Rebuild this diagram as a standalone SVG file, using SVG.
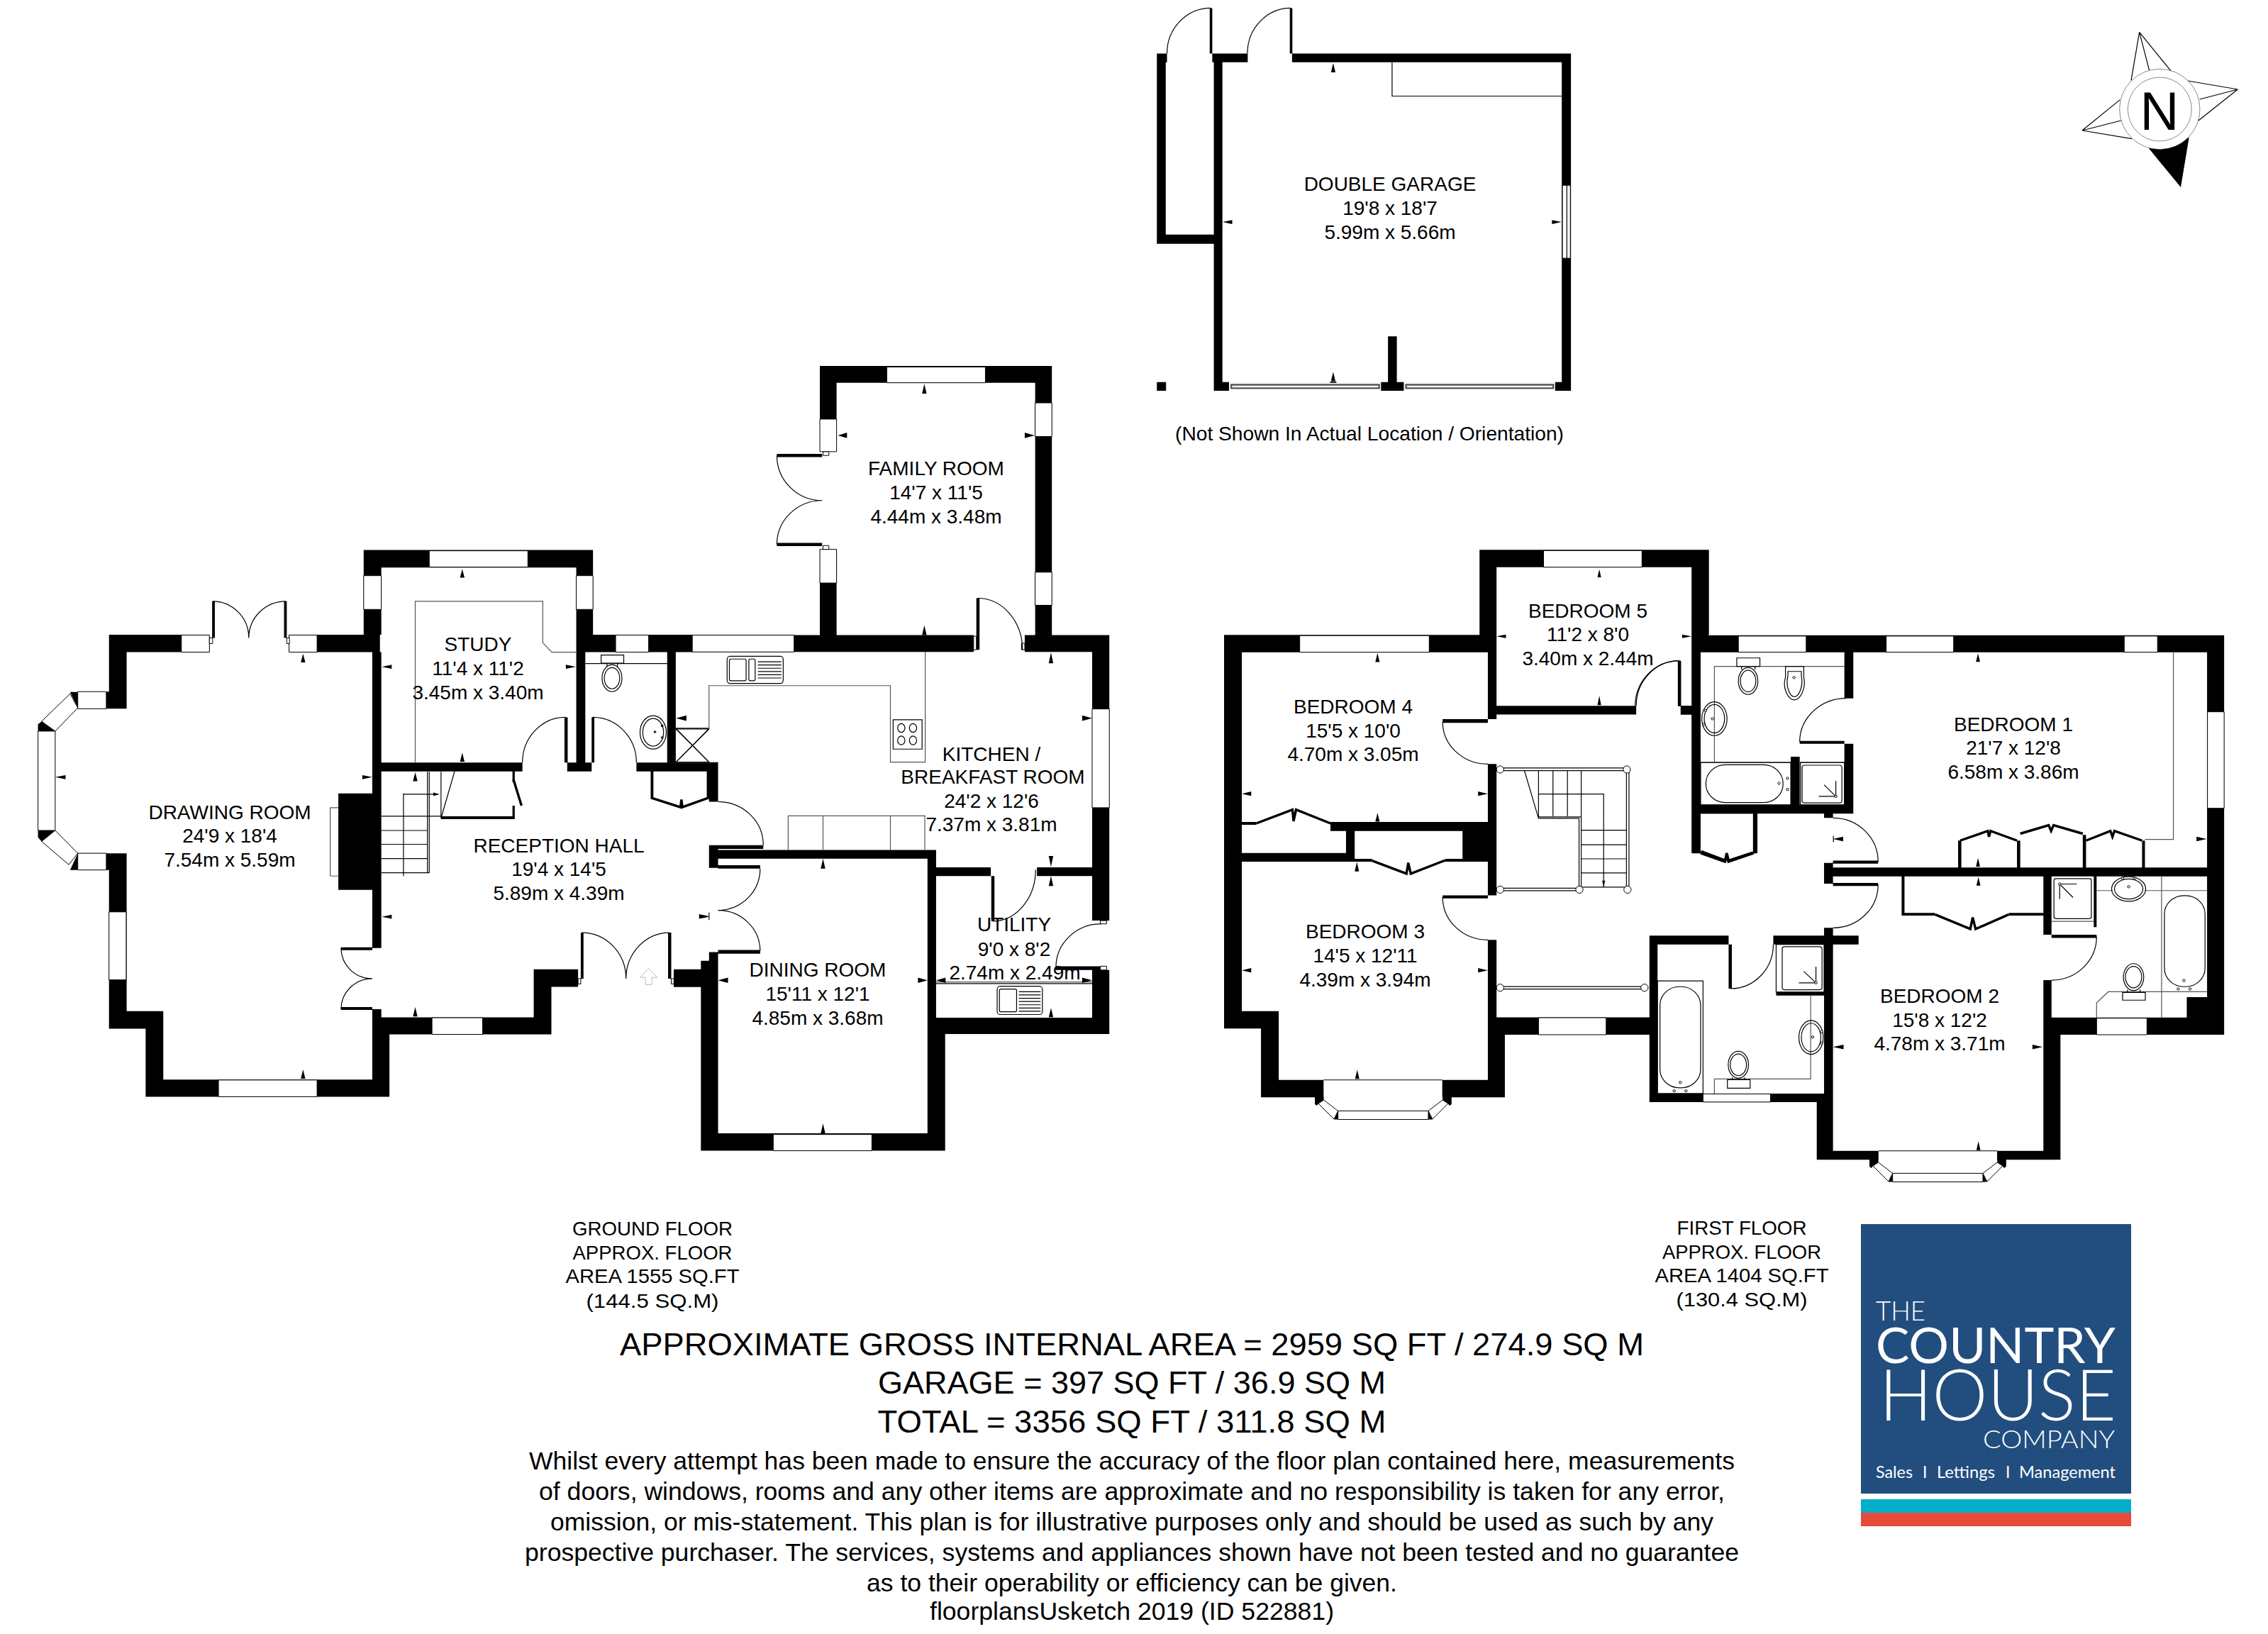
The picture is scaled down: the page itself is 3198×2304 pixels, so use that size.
<svg xmlns="http://www.w3.org/2000/svg" xmlns:xlink="http://www.w3.org/1999/xlink" width="3198" height="2304" viewBox="0 0 3198 2304">
<style>
.k{fill:#000}
.n{fill:#fff;stroke:#000;stroke-width:1;vector-effect:non-scaling-stroke}
.n *{vector-effect:non-scaling-stroke}
.l{fill:none;stroke:#000;stroke-width:1.2;vector-effect:non-scaling-stroke}
.g{fill:none;stroke:#555;stroke-width:1.2;vector-effect:non-scaling-stroke}
.b{fill:none;stroke:#000;stroke-width:3.4;vector-effect:non-scaling-stroke}
text{font-family:"Liberation Sans",Arial,sans-serif;fill:#000;text-anchor:middle}
.r{font-size:28px}
.f{font-family:"DejaVu Sans","Liberation Sans",sans-serif;font-size:28px}
.h{font-size:45px}
.d{font-size:35px}
.o{font-family:Lato,"Liberation Sans",sans-serif;font-weight:300;fill:#fff;text-anchor:start}
.s{font-weight:400}
</style>
<defs>
<g id="bay">
<path class="k" d="M0 0H12.6V4L5 9 3 12 0 10ZM192.8 0H180.2V4L187.8 9 189.8 12 192.8 10ZM27 31.5L32.7 19.4V31.5ZM165.8 31.5L160 19.4V31.5Z"/>
<path class="n" d="M5 9L12.6 4 32.7 19.4 27 31ZM187.8 9L180.2 4 160 19.4 165.8 31ZM32.7 19.4H160V31.5H32.7Z"/>
</g>
</defs>
<rect width="3198" height="2304" fill="#fff"/>

<g id="ground-floor-west" transform="translate(0,760) scale(.6378,.574)">
<path class="k" d="M804 27H1311V70H804ZM804 70H843V235H804ZM1274 70H1311V235H1274ZM241 235H463V278H241ZM639 235H840V278H639ZM241 278H280V417H235V375H241ZM155 376H172V415ZM84 455L92 448 122 472H84ZM84 716H122L92 743 84 733ZM172 772V813H155ZM235 772H280V813H235ZM241 813H280V1160H241ZM241 1160H361V1203H241ZM322 1203H361V1370H322ZM322 1328H861V1370H322ZM823 1216H861V1328H823ZM823 1175H1219V1217H823ZM1180 1057H1278V1100H1180ZM1180 1100H1219V1175H1180ZM1490 1057H1568V1100H1490ZM823 1155H843V1175H823ZM823 278H843V625H823ZM748 625H843V862H748ZM823 862H843V1005H823ZM823 549H1155V571H823ZM1254 549H1308V571H1254ZM1407 549H1568V571H1407ZM1274 278H1294V549H1274ZM1475 278H1494V549H1475ZM1274 235H1531V278H1274ZM469 153H475V243H469ZM628 153H634V243H628ZM1284 967H1290V1080H1284ZM1477 967H1484V1080H1477ZM754 1003H823V1010H754ZM754 1150H823V1157H754ZM1248 438H1255V549H1248ZM1308 438H1314V549H1308ZM1133 571H1138V597H1133ZM1133 655H1138V688H1133ZM975 681H1138V688H975Z"/>
<rect class="n" x="949" y="29" width="218" height="40"/><rect class="n" x="804" y="90" width="39" height="83"/><rect class="n" x="1274" y="90" width="37" height="83"/><rect class="n" x="401" y="236" width="62" height="42"/><rect class="n" x="639" y="236" width="62" height="42"/><rect class="n" x="172" y="375" width="63" height="42"/><rect class="n" x="172" y="772" width="63" height="41"/><rect class="n" x="84" y="472" width="38" height="244"/><path class="n" d="M92 448L122 472 172 415 155 380ZM92 743L122 716 172 772 152 800Z"/><rect class="n" x="241" y="916" width="38" height="167"/><rect class="n" x="483" y="1329" width="218" height="41"/><rect class="n" x="955" y="1176" width="112" height="41"/><rect class="n" x="1361" y="236" width="73" height="42"/>
<path class="n" d="M463 243H470V257H463ZM634 243H640V257H634ZM1278 1080H1284V1093H1278ZM1484 1080H1490V1093H1484Z"/>
<path class="l" d="M470 153A80 90 0 0 1 550 243M632 153A82 90 0 0 0 550 243M1287 967A97 113 0 0 1 1384 1080M1480 967A96 113 0 0 0 1384 1080M754 1005A69 75 0 0 0 823 1080M754 1155A69 75 0 0 1 823 1080M1250 438A95 111 0 0 0 1155 549M1310 438A97 111 0 0 1 1407 549"/>
<path class="g" d="M918 549V153H1200V255L1220 278H1274M730 660H748M730 828H748M730 660V828"/>
<path class="l" d="M1294 306H1475M843 681H975M843 716H945M843 750H945M843 785H945M843 820H949M892 625V828M945 572V820M949 572V820M975 572V686M1005 571L975 686M892 627H965M1494 465H1568M1494 465L1568 549M1568 465L1494 549"/>
<path class="k" d="M972 627l-14-4v8z"/>
<path class="b" d="M1135 590L1153 655"/>
<rect class="l" x="1329" y="285" width="50" height="20"/><path class="l" d="M1342 305V314M1365 305V314"/>
<ellipse class="l" cx="1353" cy="342" rx="22" ry="33"/><ellipse class="l" cx="1353" cy="342" rx="17" ry="26"/>
<ellipse class="l" cx="1444" cy="475" rx="29" ry="41"/><ellipse class="l" cx="1444" cy="475" rx="23" ry="34"/>
<circle class="l" cx="1448" cy="474" r="2"/><circle class="l" cx="1464" cy="459" r="2"/><circle class="l" cx="1464" cy="488" r="2"/>
<path class="k" d="M1022 74l-5 21h10zM670 282l-5 21h10zM844 314l22-5v10zM1273 314l-22-5v10zM122 585l23-5v10zM823 585l-22-5v10zM1022 525l-5 22h10zM918 573l-5 22h10zM918 1150l-5 23h10zM844 928l22-5v10zM1568 928l-22-5v10zM670 1303l-5 23h10z"/>
<path d="M1434 1055l-19 22h12v18h14v-18h12z" fill="none" stroke="#bbb" stroke-width="1" vector-effect="non-scaling-stroke"/>
</g>

<g id="ground-floor-east" transform="translate(700,480) scale(.6378,.7653)">
<path class="k" d="M715 47H1228V78H715ZM715 78H752V145H715ZM715 385H752V543H715ZM1191 78H1228V543H1191ZM433 543H1055V574H433ZM1168 543H1355V574H1168ZM1317 574H1355V1069H1317ZM1317 1160H1355V1248H1317ZM972 1248H1355V1278H972ZM972 971H1093V987H972ZM1195 971H1317V987H1195ZM470 939H972V955H470ZM953 955H972V1248H953ZM953 1248H992V1493H953ZM452 1461H992V1493H452ZM452 1143H490V1461H452ZM470 1127H490V1143H470ZM392 1160H452V1191H392ZM470 930H490V972H470ZM470 777H490V850H470ZM490 930H590V937H490ZM490 967H583V973H490ZM490 1123H583V1130H490ZM620 209H720V215H620ZM620 373H720V379H620ZM1061 475H1068V570H1061ZM1094 987H1101V1070H1094ZM1237 1153H1335V1160H1237ZM341 793H347V845H341ZM465 793H470V845H465Z"/>
<rect class="n" x="863" y="49" width="218" height="29"/><rect class="n" x="715" y="145" width="37" height="60"/><rect class="n" x="715" y="385" width="37" height="62"/><rect class="n" x="1191" y="115" width="37" height="62"/><rect class="n" x="1191" y="427" width="37" height="61"/><rect class="n" x="433" y="543" width="225" height="31"/><rect class="n" x="1317" y="679" width="38" height="182"/><rect class="n" x="612" y="1463" width="218" height="30"/>
<path class="n" d="M722 205H735V212H722ZM722 378H735V385H722ZM1055 545H1061V570H1055ZM1161 558H1168V570H1161ZM1335 1069H1349V1075H1335ZM1335 1153H1349V1160H1335Z"/>
<path class="l" d="M490 850A100 80 0 0 1 590 930M583 973A93 77 0 0 1 490 1050M490 1050A93 75 0 0 1 583 1125M620 212A100 83 0 0 0 720 295M620 376A100 81 0 0 1 720 295M1064 475A99 95 0 0 1 1163 570M1097 1070A95 95 0 0 0 1192 975M1237 1155A100 80 0 0 1 1337 1075M972 1185H1317M397 716H470M397 716L470 777M470 716L397 777M397 777H470"/>
<path class="g" d="M470 716V636H871V777H948V574M645 939V876H947V939M722 876V939M871 876V939M972 1182H1317"/>
<path class="b" d="M343 843L407 860 409 846 411 860 468 843"/>
<rect class="l" x="510" y="582" width="124" height="50" rx="6"/><rect class="l" x="515" y="587" width="37" height="40" rx="3"/><rect class="l" x="558" y="587" width="14" height="40" rx="3"/><path class="l" d="M578 592H630M578 598H630M578 604H630M578 610H630M578 616H630M578 622H630"/>
<rect class="l" x="1107" y="1190" width="100" height="52" rx="6"/><rect class="l" x="1112" y="1195" width="38" height="42" rx="3"/><path class="l" d="M1155 1200H1203M1155 1206H1203M1155 1212H1203M1155 1218H1203M1155 1224H1203M1155 1230H1203M1155 1236H1203"/>
<rect class="l" x="877" y="699" width="64" height="54"/><circle class="l" cx="895" cy="714" r="8"/><circle class="l" cx="921" cy="714" r="8"/><circle class="l" cx="895" cy="737" r="8"/><circle class="l" cx="921" cy="737" r="8"/>
<path class="k" d="M946 80l-5 18h10zM755 175l20-5v10zM1190 175l-22-5v10zM946 525l-5 18h10zM1226 575l-5 20h10zM1317 696l-22-5v10zM397 696l23-5v10zM722 955l-5 18h10zM1226 970l-5-20h10zM1226 987l-5 18h10zM490 1179l22-5v10zM953 1179l-21-5v10zM972 1179l21-5v10zM1317 1179l-22-5v10zM1226 1230l-5 17h10zM722 1443l-5 18h10zM470 1061l-22-4v8z"/>
<path class="l" d="M470 1054V1068"/>
</g>

<g id="first-floor-west" transform="translate(1700,760) scale(.5102)">
<path class="k" d="M757 30H1391V78H757ZM757 78H804V265H757ZM1343 78H1391V265H1343ZM51 265H804V313H51ZM51 313H100V1353H51ZM51 1305H202V1353H51ZM153 1353H202V1543H153ZM153 1495H326V1543H153ZM654 1495H827V1543H654ZM780 313H804V498H780ZM655 498H780V508H655ZM780 461H1190V485H780ZM780 622H804V985H780ZM655 985H780V993H655ZM780 1108H804V1322H780ZM780 1322H1248V1370H780ZM780 1370H827V1543H780ZM345 782H804V807H345ZM100 782H140V790H100ZM100 868H412V892H100ZM388 782H412V892H388ZM412 884H460V892H412ZM662 884H710V892H662ZM710 807H804V892H710ZM1306 337H1314V462H1306ZM1313 461H1366V485H1313ZM1343 265H1366V868H1343ZM1366 735H1515V759H1366ZM1515 759H1525V868H1515Z"/>
<rect class="n" x="934" y="32" width="272" height="46"/><rect class="n" x="260" y="267" width="358" height="46"/><rect class="n" x="920" y="1323" width="187" height="47"/>
<path class="b" d="M140 786L235 750 240 748 243 780 250 748 345 786M460 889L555 925 560 895 567 925 662 888M1368 868L1435 892 1440 868 1445 892 1515 868"/>
<path class="l" d="M655 505A125 117 0 0 0 780 622M655 990A125 118 0 0 0 780 1108M1308 337A118 124 0 0 0 1190 461M326 1495H654"/>
<path class="l" d="M814 633H1164M814 640H1164M1163 637V969M1170 637V969M814 965H1033M814 972H1033M1032 772V969M1038 772V969M920 772H1032M920 768H1038M881 640L920 772M920 640V772M960 640V766M1000 640V766M1038 640V772M920 705H1100V962M1038 805H1163M1038 845H1163M1038 884H1163M1038 923H1163M1038 962H1163M814 1237H1213M814 1244H1213"/>
<path class="k" d="M1100 962l-4-18h8z"/>
<g class="n"><circle cx="814" cy="637" r="10"/><circle cx="1164" cy="637" r="10"/><circle cx="814" cy="969" r="10"/><circle cx="1033" cy="969" r="10"/><circle cx="1166" cy="969" r="10"/><circle cx="814" cy="1240" r="10"/><circle cx="1213" cy="1240" r="10"/></g>
<path class="k" d="M1088 84l-5 22h10zM804 269l26-5v10zM1343 269l-26-5v10zM475 315l-6 25h12zM100 704l26-6v12zM780 704l-27-6v12zM475 757l-6 24h12zM1088 433l-5 26h10zM418 893l-6 26h12zM100 1192l26-6v12zM780 1192l-27-6v12zM419 1467l-6 25h12z"/>
</g>

<g id="first-floor-east" transform="translate(2300,860) scale(.5727,.5421)">
<path class="k" d="M150 66H1460V110H150ZM150 0H190V66H150ZM150 110H171V633H150ZM122 250H171V272H122ZM525 110H547V230H525ZM415 341H525V348H415ZM525 348H547V530H525ZM150 507H547V530H150ZM393 382H415V507H393ZM300 530H310V633H300ZM475 530H497V541H475ZM497 652H608V660H497ZM475 658H497V712H475ZM497 710H608V718H497ZM475 827H497V848H475ZM497 670H1460V693H497ZM805 600H813V670H805ZM950 600H958V670H950ZM1112 585H1120V670H1112ZM1258 600H1265V670H1258ZM1418 110H1460V1105H1418ZM1368 1007H1460V1105H1368ZM1015 1060H1460V1105H1015ZM666 693H673V795H666ZM666 788H748V795H666ZM930 788H1015V795H930ZM1015 693H1035V845H1015ZM1139 693H1146V825H1139ZM1035 845H1146V853H1035ZM1015 963H1035V1060H1015ZM1015 1060H1057V1420H1015ZM457 1407H609V1430H457ZM901 1407H1057V1430H901ZM457 1280H497V1430H457ZM475 848H497V1280H475ZM45 847H240V870H45ZM45 870H65V1280H45ZM240 870H248V985H240ZM350 847H560V870H350ZM357 994H475V1003H357ZM45 1258H497V1280H45ZM115 132H122V250H115Z"/>
<rect class="n" x="264" y="68" width="167" height="42"/><rect class="n" x="628" y="68" width="166" height="42"/><rect class="n" x="1214" y="68" width="82" height="42"/><rect class="n" x="1419" y="265" width="41" height="251"/><rect class="n" x="1146" y="1062" width="124" height="43"/><rect class="n" x="177" y="1259" width="166" height="21"/>
<path class="b" d="M810 600L878 575 881 590 885 575 950 600M958 582L1028 560 1034 575 1040 560 1112 582M1120 600L1180 575 1185 590 1190 575 1258 600M172 628L232 652 236 635 240 652 300 631M748 792L835 830 841 800 848 830 930 792"/>
<path class="l" d="M10 250A108 118 0 0 1 118 132M415 343A115 113 0 0 1 530 230M497 541A111 114 0 0 1 608 655M608 715A111 112 0 0 1 497 827M245 985A105 115 0 0 0 350 870M1146 850A111 113 0 0 1 1035 963M609 1407H901"/>
<path class="g" d="M205 397V147H525M171 397H393M415 397H525M1265 597H1335V110M1146 730H1185M1265 730H1418M1306 693V1060M1175 993H1418M1175 993L1146 1022V1060M442 1003V1220H205V1258M1035 810H1139"/>
<rect class="l" x="171" y="397" width="222" height="110"/><rect class="l" x="184" y="403" width="190" height="98" rx="48"/>
<rect class="l" x="417" y="397" width="108" height="110"/><rect class="l" x="421" y="404" width="98" height="98" rx="6"/><path class="l" d="M475 455L504 485M504 445V485H462"/>
<rect class="l" x="260" y="125" width="57" height="22"/><path class="l" d="M272 147V155M305 147V155"/><ellipse class="l" cx="288" cy="185" rx="24" ry="35"/><ellipse class="l" cx="288" cy="185" rx="19" ry="28"/>
<path class="l" d="M380 147H425V175C432 205 415 234 402 234 388 234 371 205 380 175ZM386 160H419V172C425 200 412 226 402 226 392 226 379 200 386 172Z"/>
<ellipse class="l" cx="205" cy="283" rx="31" ry="44"/><ellipse class="l" cx="205" cy="283" rx="25" ry="37"/>
<rect class="l" x="65" y="965" width="112" height="293"/><rect class="l" x="71" y="980" width="100" height="263" rx="48"/>
<rect class="l" x="357" y="870" width="118" height="124"/><rect class="l" x="372" y="876" width="98" height="112" rx="6"/><path class="l" d="M425 940L455 970M455 928V970H413"/>
<ellipse class="l" cx="443" cy="1112" rx="30" ry="44"/><ellipse class="l" cx="443" cy="1112" rx="24" ry="37"/>
<ellipse class="l" cx="264" cy="1183" rx="25" ry="35"/><ellipse class="l" cx="264" cy="1183" rx="20" ry="28"/><rect class="l" x="237" y="1222" width="56" height="22"/><path class="l" d="M249 1216V1222M279 1216V1222"/>
<rect class="l" x="1041" y="699" width="92" height="104" rx="5"/><path class="l" d="M1097 713H1055V752M1055 713L1088 748"/>
<ellipse class="l" cx="1225" cy="726" rx="42" ry="32"/><ellipse class="l" cx="1225" cy="726" rx="35" ry="26"/>
<rect class="l" x="1313" y="743" width="100" height="237" rx="48"/>
<ellipse class="l" cx="1237" cy="955" rx="25" ry="35"/><ellipse class="l" cx="1237" cy="955" rx="20" ry="28"/><rect class="l" x="1210" y="995" width="56" height="20"/><path class="l" d="M1222 988V995M1253 988V995"/>
<g class="n"><circle cx="200" cy="283" r="3"/><circle cx="183" cy="262" r="3"/><circle cx="179" cy="297" r="3"/><circle cx="364" cy="451" r="3"/><circle cx="385" cy="438" r="3"/><circle cx="385" cy="467" r="3"/><circle cx="504" cy="485" r="3"/><circle cx="121" cy="1229" r="3"/><circle cx="106" cy="1251" r="3"/><circle cx="135" cy="1251" r="3"/><circle cx="455" cy="970" r="3"/><circle cx="447" cy="1111" r="3"/><circle cx="469" cy="1097" r="3"/><circle cx="469" cy="1127" r="3"/><circle cx="1055" cy="713" r="3"/><circle cx="1225" cy="720" r="3"/><circle cx="1210" cy="698" r="3"/><circle cx="1239" cy="698" r="3"/><circle cx="1361" cy="964" r="3"/><circle cx="1347" cy="986" r="3"/><circle cx="1376" cy="986" r="3"/><circle cx="401" cy="176" r="3"/></g>
<path class="k" d="M854 113l-5 22h10zM497 596l25-6v12zM1417 596l-25-6v12zM854 645l-5 23h10zM855 695l-5 22h10zM497 1137l26-6v12zM1013 1137l-25-6v12zM855 1382l-5 23h10z"/>
<path class="l" d="M498 588V604"/>
</g>

<use id="bay-bedroom-3" xlink:href="#bay" transform="translate(1854,1547)"/>
<use id="bay-bedroom-2" xlink:href="#bay" transform="translate(2636,1635)"/>

<g id="double-garage" transform="translate(1600,0) scale(.4464,.4082)">
<path class="k" d="M497 185H1378V215H497ZM245 185H357V215H245ZM70 185H102V215H70ZM250 215H277V1350H250ZM70 215H98V842H70ZM70 810H250V842H70ZM70 1320H99V1350H70ZM250 1320H298V1350H250ZM778 1320H850V1350H778ZM800 1162H828V1320H800ZM1328 1320H1378V1350H1328ZM1349 215H1378V1350H1349ZM237 28H245V185H237ZM490 28H498V185H490Z"/>
<rect class="n" x="1351" y="640" width="25" height="252"/><path class="l" d="M1365 640V892"/>
<path class="l" d="M240 28A138 157 0 0 0 102 185M493 28A137 157 0 0 0 356 185M813 215V332H1349"/>
<rect x="305" y="1329" width="467" height="12" fill="#fff" stroke="#555" stroke-width="2.4" vector-effect="non-scaling-stroke"/><rect x="857" y="1329" width="465" height="12" fill="#fff" stroke="#555" stroke-width="2.4" vector-effect="non-scaling-stroke"/>
<path class="k" d="M627 218l-7 32h14zM278 767l30-7v14zM1348 767l-30-7v14zM627 1285l-7 32h14zM617 1318H637V1322H617Z"/>
</g>

<g id="compass" transform="translate(2900,20) scale(.3333)">
<path class="l" d="M315 280L350 76 392 238M350 76L483 240M555 282L766 318 605 360M766 318L600 450M268 362L108 492 272 450M108 492L318 527"/>
<path class="k" d="M390 568L560 522 525 732Z"/>
<circle cx="436" cy="402" r="170" fill="#fff" stroke="#000" stroke-width="1.4"/><circle cx="436" cy="402" r="135" fill="none" stroke="#000" stroke-width="1.4"/>
</g>
<text x="3045" y="183" font-size="76">N</text>

<g id="labels">
<g class="r">
<text x="324" y="1155">DRAWING ROOM</text><text x="324" y="1188">24'9 x 18'4</text><text x="324" y="1222">7.54m x 5.59m</text>
<text x="674" y="918">STUDY</text><text x="674" y="952">11'4 x 11'2</text><text x="674" y="986">3.45m x 3.40m</text>
<text x="788" y="1202">RECEPTION HALL</text><text x="788" y="1235">19'4 x 14'5</text><text x="788" y="1269">5.89m x 4.39m</text>
<text x="1320" y="670">FAMILY ROOM</text><text x="1320" y="704">14'7 x 11'5</text><text x="1320" y="738">4.44m x 3.48m</text>
<text x="1398" y="1073">KITCHEN /</text><text x="1400" y="1105">BREAKFAST ROOM</text><text x="1398" y="1139">24'2 x 12'6</text><text x="1398" y="1172">7.37m x 3.81m</text>
<text x="1430" y="1313">UTILITY</text><text x="1430" y="1348">9'0 x 8'2</text><text x="1431" y="1381">2.74m x 2.49m</text>
<text x="1153" y="1377">DINING ROOM</text><text x="1153" y="1411">15'11 x 12'1</text><text x="1153" y="1445">4.85m x 3.68m</text>
<text x="1960" y="269">DOUBLE GARAGE</text><text x="1960" y="303">19'8 x 18'7</text><text x="1960" y="337">5.99m x 5.66m</text>
<text x="1931" y="621" textLength="548" lengthAdjust="spacingAndGlyphs">(Not Shown In Actual Location / Orientation)</text>
<text x="2239" y="871">BEDROOM 5</text><text x="2239" y="904">11'2 x 8'0</text><text x="2239" y="938">3.40m x 2.44m</text>
<text x="1908" y="1006">BEDROOM 4</text><text x="1908" y="1040">15'5 x 10'0</text><text x="1908" y="1073">4.70m x 3.05m</text>
<text x="1925" y="1323">BEDROOM 3</text><text x="1925" y="1357">14'5 x 12'11</text><text x="1925" y="1391">4.39m x 3.94m</text>
<text x="2839" y="1031">BEDROOM 1</text><text x="2839" y="1064">21'7 x 12'8</text><text x="2839" y="1098">6.58m x 3.86m</text>
<text x="2735" y="1414">BEDROOM 2</text><text x="2735" y="1448">15'8 x 12'2</text><text x="2735" y="1481">4.78m x 3.71m</text>
</g>
<g class="f">
<text x="920" y="1742" textLength="226" lengthAdjust="spacingAndGlyphs">GROUND FLOOR</text><text x="920" y="1776" textLength="225" lengthAdjust="spacingAndGlyphs">APPROX. FLOOR</text><text x="920" y="1809" textLength="245" lengthAdjust="spacingAndGlyphs">AREA 1555 SQ.FT</text><text x="920" y="1844" textLength="187" lengthAdjust="spacingAndGlyphs">(144.5 SQ.M)</text>
<text x="2456" y="1741" textLength="183" lengthAdjust="spacingAndGlyphs">FIRST FLOOR</text><text x="2456" y="1775" textLength="224" lengthAdjust="spacingAndGlyphs">APPROX. FLOOR</text><text x="2456" y="1808" textLength="245" lengthAdjust="spacingAndGlyphs">AREA 1404 SQ.FT</text><text x="2456" y="1842" textLength="185" lengthAdjust="spacingAndGlyphs">(130.4 SQ.M)</text>
</g>
<g class="h">
<text x="1596" y="1911" textLength="1444" lengthAdjust="spacingAndGlyphs">APPROXIMATE GROSS INTERNAL AREA = 2959 SQ FT / 274.9 SQ M</text>
<text x="1596" y="1965" textLength="716" lengthAdjust="spacingAndGlyphs">GARAGE = 397 SQ FT / 36.9 SQ M</text>
<text x="1596" y="2020" textLength="717" lengthAdjust="spacingAndGlyphs">TOTAL = 3356 SQ FT / 311.8 SQ M</text>
</g>
<g class="d">
<text x="1596" y="2072" textLength="1700" lengthAdjust="spacingAndGlyphs">Whilst every attempt has been made to ensure the accuracy of the floor plan contained here, measurements</text>
<text x="1596" y="2115" textLength="1672" lengthAdjust="spacingAndGlyphs">of doors, windows, rooms and any other items are approximate and no responsibility is taken for any error,</text>
<text x="1596" y="2158" textLength="1640" lengthAdjust="spacingAndGlyphs">omission, or mis-statement. This plan is for illustrative purposes only and should be used as such by any</text>
<text x="1596" y="2201" textLength="1712" lengthAdjust="spacingAndGlyphs">prospective purchaser. The services, systems and appliances shown have not been tested and no guarantee</text>
<text x="1596" y="2244" textLength="748" lengthAdjust="spacingAndGlyphs">as to their operability or efficiency can be given.</text>
<text x="1596" y="2284" textLength="570" lengthAdjust="spacingAndGlyphs">floorplansUsketch 2019 (ID 522881)</text>
</g>
</g>

<g id="logo">
<rect x="2624" y="1726" width="381" height="380" fill="#224d7f"/>
<rect x="2624" y="2114" width="381" height="19" fill="#00afcb"/>
<rect x="2624" y="2133" width="381" height="19" fill="#e64a38"/>
<text class="o" x="2645" y="1862" font-size="37" textLength="70" lengthAdjust="spacingAndGlyphs">THE</text>
<text class="o s" x="2645" y="1922" font-size="69" textLength="338" lengthAdjust="spacingAndGlyphs">COUNTRY</text>
<text class="o" x="2650" y="2003" font-size="100" textLength="334" lengthAdjust="spacingAndGlyphs">HOUSE</text>
<text class="o" x="2796" y="2042" font-size="35" textLength="186" lengthAdjust="spacingAndGlyphs">COMPANY</text>
<g>
<text class="o s" x="2645" y="2084" font-size="23" textLength="52" lengthAdjust="spacingAndGlyphs">Sales</text><text class="o s" x="2711" y="2084" font-size="23">I</text><text class="o s" x="2731" y="2084" font-size="23" textLength="82" lengthAdjust="spacingAndGlyphs">Lettings</text><text class="o s" x="2828" y="2084" font-size="23">I</text><text class="o s" x="2847" y="2084" font-size="23" textLength="136" lengthAdjust="spacingAndGlyphs">Management</text>
</g>
</g>
</svg>
